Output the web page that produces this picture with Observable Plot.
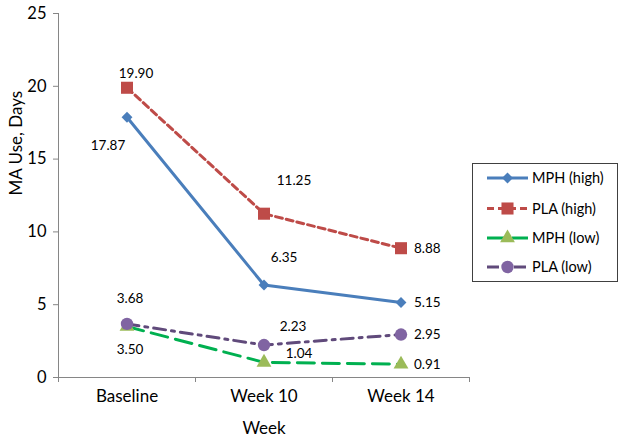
<!DOCTYPE html>
<html>
<head>
<meta charset="utf-8">
<script src="https://cdn.jsdelivr.net/npm/d3@7"></script>
<script src="https://cdn.jsdelivr.net/npm/@observablehq/plot@0.6"></script>
<style>
  body { margin: 0; background: #fff; }
  #wrap { position: relative; width: 625px; height: 439px; font-family: Lato, sans-serif; }
  #legend { position: absolute; left: 472px; top: 163px; }
</style>
</head>
<body>
<div id="wrap"></div>
<script>
// ---- data ----
const weeks = ["Baseline", "Week 10", "Week 14"];
const seriesNames = ["MPH (high)", "PLA (high)", "MPH (low)", "PLA (low)"];
const mphHigh = [17.87, 6.35, 5.15];
const plaHigh = [19.90, 11.25, 8.88];
const mphLow  = [3.50, 1.04, 0.91];
const plaLow  = [3.68, 2.23, 2.95];
const yTicks = [0, 5, 10, 15, 20, 25];
const yTitle = "MA Use, Days";
const xTitle = "Week";

const seriesValues = [mphHigh, plaHigh, mphLow, plaLow];

// ---- styles ----
const styles = [
  {stroke: "#4A7EBB", dash: null,        symbol: "diamond2", fill: "#4A7EBB", r: 4.9},
  {stroke: "#BE4B48", dash: "7,4",       symbol: "square",   fill: "#BE4B48", r: 6.8},
  {stroke: "#00B050", dash: "17,8",      symbol: "triangle", fill: "#9BBB59", r: 5.5},
  {stroke: "#604A7B", dash: "12,6,3,6",  symbol: "circle",   fill: "#8064A2", r: 6.2}
];
// label offsets (pixels, text centre relative to marker) for the first two points;
// the last point's label sits to the right of the marker
const labelOffsets = [
  [[-19, 28], [20, -27]],
  [[9, -14],  [30, -33]],
  [[3, 23],   [35, -9]],
  [[3, -25],  [29, -18]]
];

// ---- table ----
const rows = [];
seriesNames.forEach((s, si) => {
  seriesValues[si].forEach((v, wi) => rows.push({series: s, si, wi, x: wi + 0.5, week: weeks[wi], value: v}));
});

const marks = [];
// axis lines
marks.push(Plot.ruleX([0], {stroke: "#868686", strokeWidth: 1}));
marks.push(Plot.ruleY([0], {stroke: "#868686", strokeWidth: 1}));
marks.push(Plot.axisY({ticks: yTicks, tickSize: 5, tickPadding: 7, stroke: "#868686", fill: "#000", fontSize: 16.5, label: null}));
marks.push(Plot.axisX({ticks: [0, 1, 2, 3], tickSize: 5, stroke: "#868686", tickFormat: () => "", label: null}));
marks.push(Plot.axisX({ticks: weeks.map((w, i) => i + 0.5), tickSize: 0, tickPadding: 12, tickFormat: d => weeks[Math.floor(d)], fill: "#000", fontSize: 17, label: null}));

// series
seriesNames.forEach((s, si) => {
  const st = styles[si];
  const data = rows.filter(d => d.si === si);
  marks.push(Plot.line(data, {x: "x", y: "value", stroke: st.stroke, strokeWidth: 3, strokeDasharray: st.dash, curve: "linear"}));
});
seriesNames.forEach((s, si) => {
  const st = styles[si];
  const data = rows.filter(d => d.si === si);
  marks.push(Plot.dot(data, {x: "x", y: "value", symbol: () => st.symbol, fill: st.fill, stroke: "none", r: st.r}));
});
// labels
rows.forEach(d => {
  if (d.wi < 2) {
    const [dx, dy] = labelOffsets[d.si][d.wi];
    marks.push(Plot.text([d], {x: "x", y: "value", text: v => v.value.toFixed(2), dx, dy, textAnchor: "middle", fill: "#000", fontSize: 13.5}));
  } else {
    marks.push(Plot.text([d], {x: "x", y: "value", text: v => v.value.toFixed(2), dx: 13, dy: 0, textAnchor: "start", fill: "#000", fontSize: 13.5}));
  }
});
// axis titles
marks.push(Plot.text([xTitle], {frameAnchor: "bottom", text: d => d, dy: 56, fontSize: 17, fill: "#000"}));
marks.push(Plot.text([yTitle], {frameAnchor: "left", text: d => d, dx: -42, rotate: -90, fontSize: 17, fill: "#000"}));

const chart = Plot.plot({
  width: 625,
  height: 439,
  marginLeft: 58,
  marginRight: 156,
  marginTop: 13,
  marginBottom: 62,
  style: {fontFamily: "Lato, sans-serif", background: "#fff", overflow: "visible"},
  x: {type: "linear", domain: [0, 3], label: null, axis: null},
  y: {type: "linear", domain: [0, 25], label: null, axis: null},
  symbol: {type: "identity"},
  marks
});
document.getElementById("wrap").appendChild(chart);

// ---- legend ----
const lw = 146, lh = 119;
const leg = d3.select("#wrap").append("svg")
  .attr("id", "legend").attr("width", lw).attr("height", lh);
leg.append("rect").attr("x", 0.5).attr("y", 0.5).attr("width", lw - 1).attr("height", lh - 1)
  .attr("fill", "#fff").attr("stroke", "#404040").attr("stroke-width", 1);
const symMap = {diamond2: d3.symbolDiamond2, square: d3.symbolSquare, triangle: d3.symbolTriangle, circle: d3.symbolCircle};
const rowY = [15, 45.5, 75, 104];
seriesNames.forEach((s, si) => {
  const st = styles[si];
  const g = leg.append("g").attr("transform", `translate(0,${rowY[si]})`);
  g.append("line").attr("x1", 15).attr("x2", 56).attr("y1", 0).attr("y2", 0)
    .attr("stroke", st.stroke).attr("stroke-width", 3).attr("stroke-dasharray", st.dash);
  g.append("path").attr("transform", "translate(35.5,0)")
    .attr("d", d3.symbol(symMap[st.symbol], st.r * st.r * Math.PI)())
    .attr("fill", st.fill);
  g.append("text").attr("x", 60).attr("y", 0).attr("dy", "0.35em")
    .attr("font-family", "Lato, sans-serif").attr("font-size", 14.5).attr("fill", "#000").text(s);
});
</script>
</body>
</html>
